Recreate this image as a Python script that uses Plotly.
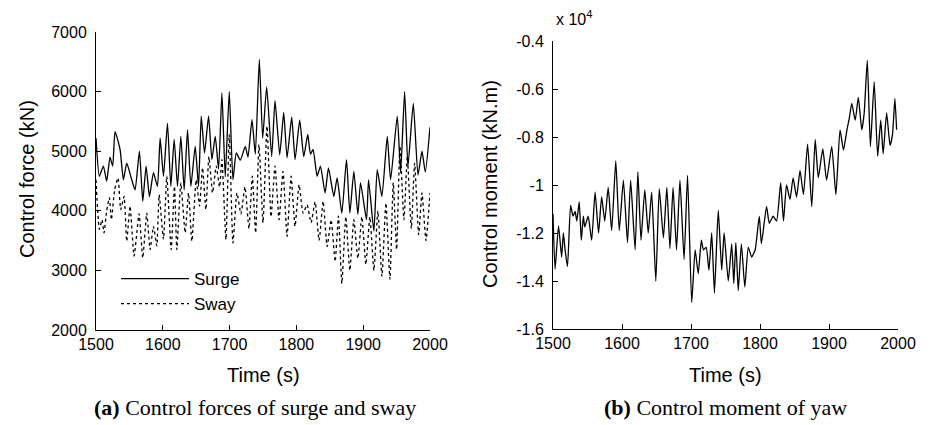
import plotly.graph_objects as go

# ---------------- data ----------------
surge_t = [1500, 1505, 1511, 1516, 1521, 1525, 1528.5, 1536, 1541, 1546, 1553.5, 1558.5,
           1565, 1570, 1575, 1580, 1586, 1592, 1596, 1601, 1607, 1612, 1617, 1622, 1627,
           1632, 1637, 1642, 1648.5, 1653.5, 1657.5, 1662.5, 1668.5, 1673.5, 1678.5,
           1683.5, 1688.5, 1693.5, 1699.5, 1705, 1710, 1716, 1723.5, 1727.5, 1733.5,
           1738.5, 1744.5, 1749.5, 1755.5, 1763, 1768, 1775, 1781, 1786, 1793, 1798,
           1805, 1811, 1817, 1821, 1825, 1831, 1836, 1843, 1848, 1856, 1861, 1868, 1875,
           1880, 1886, 1892, 1896, 1905, 1908, 1916, 1921, 1928, 1936, 1941, 1951, 1956,
           1962, 1967, 1975, 1982, 1988, 1993, 2000]
surge_kN = [5220, 4580, 4750, 4500, 4900, 4750, 5330, 5030, 4520, 4800, 4520, 4350,
            5000, 4160, 4750, 4240, 4640, 4410, 5220, 4580, 5470, 4410, 5200, 4410, 5250,
            4350, 5360, 4410, 5080, 4410, 5590, 4970, 5590, 4860, 5250,
            4700, 5980, 4570, 6000, 4520, 4970, 4850, 5080, 4900, 5530,
            4950, 6540, 5220, 6080, 4910, 5850, 4940, 5650, 4890, 5570, 4860,
            5520, 4910, 5280, 4950, 5030, 4580, 4750, 4300, 4720, 4240, 4550, 3960, 4860,
            3960, 4660, 3940, 4470, 3850, 4520, 3660, 4690, 4240, 5250, 4520, 5590, 4640,
            6000, 4750, 5800, 4600, 5000, 4650, 5400]

sway_t = [1500, 1505, 1509, 1512, 1516, 1520, 1523, 1528, 1533, 1537, 1542, 1546, 1551,
          1557, 1564.5, 1570, 1576, 1581, 1586, 1591, 1594.5, 1601, 1606, 1612.5, 1617.5,
          1621, 1627, 1633.5, 1638.5, 1643.5, 1650, 1655, 1659.5, 1664.5, 1669, 1674.5,
          1680, 1685, 1688.5, 1694.5, 1699.5, 1705, 1711, 1717, 1723, 1729, 1734, 1739,
          1744, 1750, 1756, 1762, 1768, 1774, 1780, 1786, 1792, 1798, 1804, 1810, 1816,
          1822, 1828, 1834, 1840, 1846, 1852, 1858, 1863, 1868, 1874, 1880, 1886, 1892,
          1898, 1904, 1910, 1916, 1922, 1928, 1934, 1940, 1945, 1950, 1955, 1961, 1966,
          1972, 1977, 1983, 1988, 1994, 2000]
sway_kN = [4520, 3690, 3850, 3630, 4000, 4220, 3850, 4360, 4550, 4020, 4240, 3490, 4080,
           3240, 3950, 3210, 3960, 3350, 3740, 3410, 4270, 3520, 4580, 3350, 4410,
           3350, 4470, 3630, 4300, 3490, 4520, 4080, 4720, 4020, 4910, 4300,
           4750, 4400, 4860, 3520, 5280, 3460, 4300, 3950, 4400, 3700, 4580, 3630,
           5110, 3800, 5420, 3900, 4750, 3850, 4660, 3570, 4580, 3740, 4440, 3960, 4100,
           3800, 4150, 3500, 4160, 3400, 3850, 3150, 3910, 2780, 3900, 3000, 3850, 3200,
           3900, 3100, 3900, 3000, 4000, 2900, 4130, 2850, 4470, 3350, 5080, 3850, 4900,
           3700, 4800, 3600, 4300, 3500, 4300]

yaw_t = [1500, 1503, 1508, 1512.5, 1515, 1517.5, 1521, 1525.5, 1529, 1532, 1534.5, 1538,
         1541, 1544, 1546, 1551, 1556, 1561, 1566, 1570.5, 1575, 1580, 1585, 1591, 1596,
         1602, 1608, 1612.5, 1619, 1623, 1627.5, 1633, 1638, 1643, 1649, 1654, 1660, 1665,
         1669.5, 1674, 1679, 1684, 1690, 1695, 1701, 1706, 1710.5, 1715, 1718, 1722, 1726,
         1730, 1734, 1739.5, 1744.5, 1748, 1754, 1759, 1762, 1765, 1768.5, 1773, 1778,
         1783, 1788, 1793, 1799, 1802, 1809.5, 1813.5, 1819, 1824, 1830, 1834, 1838.5,
         1843.5, 1848, 1853, 1858, 1863, 1869, 1875, 1880, 1884.5, 1891, 1896.5, 1904,
         1910, 1916, 1921, 1926, 1929.5, 1933, 1938, 1942.5, 1947.5, 1951, 1955.5, 1960,
         1965.5, 1970.5, 1975, 1978.5, 1983.5, 1988.5, 1992, 1995.5, 1998]
yaw_x1e4 = [-1.12, -1.35, -1.17, -1.30, -1.20, -1.27, -1.34, -1.085, -1.13, -1.11, -1.15, -1.07,
            -1.23, -1.13, -1.175, -1.13, -1.23, -1.03, -1.20, -1.05, -1.15, -1.01, -1.19, -0.90, -1.19,
            -0.98, -1.24, -0.98, -1.27, -0.945, -1.23, -1.02, -1.20, -1.03, -1.40, -1.015, -1.22, -1.01,
            -1.265, -1.01, -1.27, -0.98, -1.31, -0.96, -1.49, -1.27, -1.37, -1.23, -1.27, -1.26, -1.355,
            -1.20, -1.45, -1.105, -1.355, -1.20, -1.40, -1.245, -1.41, -1.24, -1.44, -1.245, -1.425,
            -1.26, -1.30, -1.27, -1.13, -1.245, -1.09, -1.16, -1.13, -1.15, -0.99, -1.15, -1.00,
            -1.06, -0.97, -1.05, -0.94, -1.04, -0.83, -1.09, -0.81, -0.97, -0.85, -0.98, -0.84,
            -1.04, -0.77, -0.855, -0.77, -0.72, -0.66, -0.73, -0.635, -0.77, -0.70, -0.48, -0.84,
            -0.57, -0.88, -0.73, -0.87, -0.70, -0.835, -0.79, -0.64, -0.77]

x_ticks = [1500, 1600, 1700, 1800, 1900, 2000]
force_ticks = [2000, 3000, 4000, 5000, 6000, 7000]
moment_ticks = [-1.6, -1.4, -1.2, -1.0, -0.8, -0.6, -0.4]
moment_labels = ["-1.6", "-1.4", "-1.2", "-1", "-0.8", "-0.6", "-0.4"]

# ---------------- figure ----------------
W, H = 933, 425
SANS = "Liberation Sans, Arial, sans-serif"
SERIF = "Liberation Serif, Times New Roman, serif"

fig = go.Figure()
fig.add_trace(go.Scatter(x=surge_t, y=surge_kN, mode="lines", name="Surge",
                         line=dict(color="black", width=1.3, shape="spline", smoothing=0.5),
                         xaxis="x", yaxis="y"))
fig.add_trace(go.Scatter(x=sway_t, y=sway_kN, mode="lines", name="Sway",
                         line=dict(color="black", width=1.3, dash="dot", shape="spline", smoothing=0.5),
                         xaxis="x", yaxis="y"))
fig.add_trace(go.Scatter(x=yaw_t, y=yaw_x1e4, mode="lines", name="Yaw", showlegend=False,
                         line=dict(color="black", width=1.3, shape="spline", smoothing=0.5),
                         xaxis="x2", yaxis="y2"))

def px(x):
    return x / W

def py(y):
    return (H - y) / H

axis_common = dict(showline=True, linecolor="black", linewidth=1, ticks="inside", ticklen=5,
                   tickcolor="black", showgrid=False, zeroline=False, mirror=False,
                   automargin=False,
                   tickfont=dict(family=SANS, size=16, color="black"))

fig.update_layout(
    template="none",
    width=W, height=H, margin=dict(l=0, r=0, t=0, b=0, autoexpand=False),
    paper_bgcolor="white", plot_bgcolor="white",
    xaxis=dict(domain=[px(96), px(430)], range=[1500, 2000], tickvals=x_ticks, anchor="y",
               **axis_common),
    yaxis=dict(domain=[py(330), py(32)], range=[2000, 7000], tickvals=force_ticks, anchor="x",
               ticklabelstandoff=5, **axis_common),
    xaxis2=dict(domain=[px(553), px(898)], range=[1500, 2000], tickvals=x_ticks, anchor="y2",
                **axis_common),
    yaxis2=dict(domain=[py(329), py(41)], range=[-1.6, -0.4], tickvals=moment_ticks,
                ticktext=moment_labels, anchor="x2", ticklabelstandoff=5, **axis_common),
    showlegend=True,
    legend=dict(x=px(116), y=py(261), xanchor="left", yanchor="top", bgcolor="rgba(0,0,0,0)",
                borderwidth=0, font=dict(family=SANS, size=17, color="black"),
                tracegroupgap=0, itemwidth=68),
)

title_font = dict(family=SANS, size=20, color="black")
cap_font = dict(family=SERIF, size=22, color="black")
ann = [
    dict(text="Time (s)", x=px(263), y=py(375), font=title_font),
    dict(text="Time (s)", x=px(725), y=py(375), font=title_font),
    dict(text="Control force (kN)", x=px(27), y=py(179), textangle=-90, font=title_font),
    dict(text="Control moment (kN.m)", x=px(490), y=py(184), textangle=-90, font=title_font),
    dict(text="<b>(a)</b> Control forces of surge and sway", x=px(255), y=py(407), font=cap_font),
    dict(text="<b>(b)</b> Control moment of yaw", x=px(725), y=py(407), font=cap_font),
    dict(text="x 10<sup>4</sup>", x=px(554), y=py(18), xanchor="left",
         font=dict(family=SANS, size=16, color="black")),
]
for a in ann:
    a.setdefault("xanchor", "center")
    fig.add_annotation(xref="paper", yref="paper", showarrow=False, yanchor="middle", **a)

fig.write_html("out.html")
